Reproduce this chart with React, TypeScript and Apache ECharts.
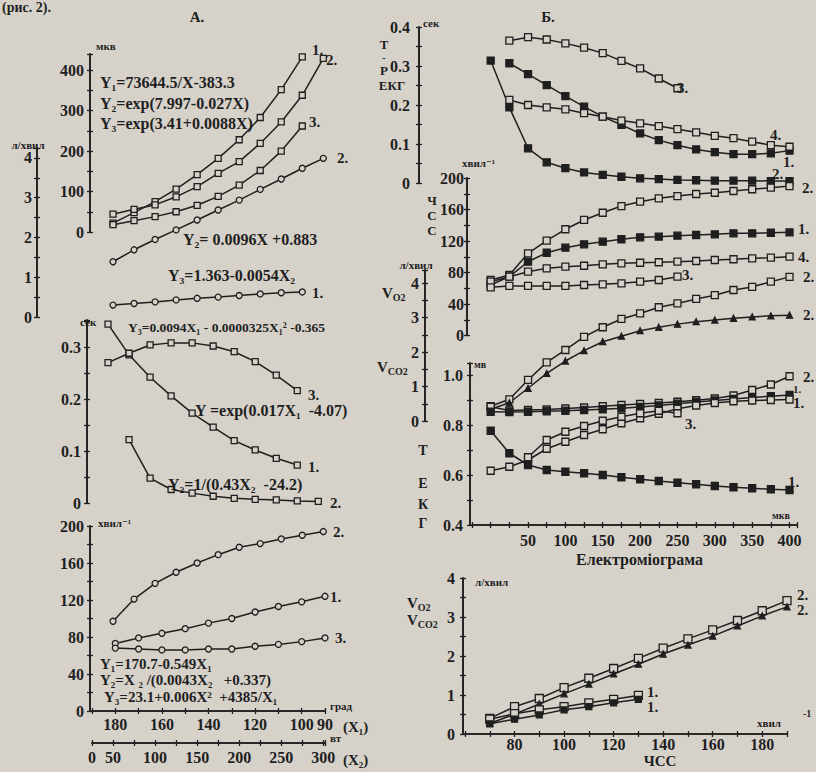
import { useEffect, useRef } from 'react';
import * as echarts from 'echarts';

// ================= DATA =================
// Panel А — X2 (вт) positions and X1 (град) positions of the points
const xW = [50, 75, 100, 125, 150, 175, 200, 225, 250, 275, 300];
const xDeg = [180, 170, 160, 150, 140, 130, 120, 110, 100, 90];

// А, upper block (мкв)
const aMkv1 = [22, 48, 75, 106, 142, 182, 228, 283, 352, 433];
const aMkv2 = [44, 56, 67, 87, 112, 145, 174, 219, 272, 338, 429];
const aMkv3 = [18, 28, 38, 50, 66, 88, 116, 152, 200, 262];
// А, л/хвил
const aLpm2 = [1.39, 1.69, 1.95, 2.19, 2.44, 2.69, 2.94, 3.21, 3.47, 3.74, 3.99];
const aLpm1 = [0.3, 0.34, 0.38, 0.43, 0.47, 0.5, 0.54, 0.58, 0.61, 0.63];
// А, сек
const aSec1 = [0.344, 0.285, 0.242, 0.206, 0.173, 0.146, 0.12, 0.102, 0.086, 0.073];
const aSec3 = [0.27, 0.288, 0.304, 0.308, 0.308, 0.302, 0.291, 0.272, 0.246, 0.216];
const aSec2 = [0.122, 0.048, 0.026, 0.019, 0.013, 0.009, 0.007, 0.006, 0.004, 0.003]; // from xW[1]
// А, хвил-1
const aHr2 = [97, 121, 138, 150, 160, 169, 177, 181, 186, 190, 194]; // on X2
const aHr1 = [73, 79, 84, 89, 95, 100, 107, 113, 118, 124]; // on X1
const aHr3 = [68, 67, 66, 66, 67, 67, 70, 72, 75, 79]; // on X1

// Panel Б — Електроміограма, мкв
const xMkv = [0, 25, 50, 75, 100, 125, 150, 175, 200, 225, 250, 275, 300, 325, 350, 375, 400];
// Б, T-P ЕКГ, сек
const bSec3 = [0.365, 0.374, 0.368, 0.358, 0.347, 0.333, 0.313, 0.294, 0.268, 0.243]; // from 25
const bSec1 = [0.307, 0.279, 0.251, 0.223, 0.196, 0.17, 0.149, 0.127, 0.11, 0.097, 0.086, 0.079, 0.074, 0.074, 0.076, 0.083]; // from 25
const bSec4 = [0.213, 0.2, 0.194, 0.189, 0.179, 0.17, 0.16, 0.153, 0.146, 0.138, 0.13, 0.121, 0.115, 0.106, 0.097, 0.093]; // from 25
const bSec2 = [0.314, 0.194, 0.089, 0.053, 0.038, 0.027, 0.021, 0.016, 0.012, 0.01, 0.008, 0.007, 0.006, 0.006, 0.006, 0.005, 0.005];
// Б, ЧСС, хвил-1
const bHr2 = [70.5, 76.8, 104.4, 120.4, 134.9, 146.7, 155.9, 164.4, 169.9, 174.2, 177.1, 179.7, 181.3, 183.5, 185.7, 187.7, 189.8];
const bHr1 = [64.1, 74.7, 93.7, 105.1, 111.5, 115.8, 119.1, 122.2, 124.7, 125.5, 126.7, 127.6, 128.5, 129.8, 129.8, 130.5, 131.0];
const bHr4 = [68.3, 74.7, 81.0, 85.3, 87.4, 88.6, 90.4, 91.7, 92.4, 93.0, 93.7, 94.6, 95.9, 96.8, 98.0, 98.8, 100.1];
const bHr3 = [61.2, 62.9, 62.9, 62.9, 62.9, 64.1, 65.0, 66.3, 68.3, 70.5, 74.7]; // 0..250
// Б, VO2 / VCO2, л/хвил
const bVo2 = [0.43, 0.63, 1.19, 1.7, 2.06, 2.44, 2.72, 2.96, 3.12, 3.3, 3.41, 3.54, 3.65, 3.8, 3.89, 4.04, 4.18];
const bVco2 = [0.34, 0.53, 0.95, 1.38, 1.74, 2.04, 2.3, 2.46, 2.62, 2.72, 2.81, 2.88, 2.93, 2.98, 3.02, 3.05, 3.07];
// Б, T ЕКГ, мв
const bMv2 = [0.873, 0.858, 0.86, 0.862, 0.866, 0.87, 0.875, 0.88, 0.884, 0.888, 0.893, 0.899, 0.906, 0.918, 0.94, 0.962, 0.995];
const bMv1a = [0.853, 0.852, 0.853, 0.855, 0.857, 0.86, 0.863, 0.867, 0.872, 0.878, 0.885, 0.892, 0.898, 0.904, 0.91, 0.915, 0.92];
const bMv1b = [0.617, 0.633, 0.66, 0.705, 0.733, 0.76, 0.783, 0.807, 0.827, 0.845, 0.865, 0.878, 0.888, 0.895, 0.898, 0.9, 0.902];
const bMv3 = [0.671, 0.74, 0.773, 0.796, 0.817, 0.833, 0.847, 0.857, 0.847]; // 50..250
const bMv1c = [0.777, 0.687, 0.64, 0.62, 0.613, 0.607, 0.6, 0.591, 0.583, 0.576, 0.569, 0.563, 0.556, 0.551, 0.547, 0.543, 0.54];
// Б, lower: л/хвил vs ЧСС
const xHr = [70, 80, 90, 100, 110, 120, 130, 140, 150, 160, 170, 180, 190];
const cVo2_2 = [0.4, 0.7, 0.91, 1.19, 1.43, 1.68, 1.94, 2.2, 2.44, 2.67, 2.91, 3.16, 3.42];
const cVco2_2 = [0.27, 0.51, 0.77, 1.03, 1.28, 1.54, 1.79, 2.05, 2.28, 2.51, 2.77, 3.03, 3.26];
const cVo2_1 = [0.38, 0.52, 0.62, 0.7, 0.8, 0.89, 0.99];
const cVco2_1 = [0.26, 0.38, 0.49, 0.62, 0.7, 0.8, 0.89];

// ================= STYLE =================
const INK = '#1f1f1f';
const PAPER = '#d6d2ca';
const FONT = '"Liberation Serif", "Times New Roman", "DejaVu Serif", serif';

const near = (a: number, b: number) => Math.abs(a - b) < 1e-6;
const multOf = (m: number) => (v: number) => (near(v / m, Math.round(v / m)) ? String(Math.round(v)) : '');
const intLbl = (v: number) => (near(v, Math.round(v)) ? String(Math.round(v)) : '');
const tenths = (v: number) => {
  const r = Math.round(v * 100);
  if (Math.abs(v * 100 - r) > 0.01 || r % 10 !== 0) return '';
  return r === 0 ? '0' : String(r / 100);
};
const evenTenths = (v: number) => {
  const r = Math.round(v * 10);
  if (Math.abs(v * 10 - r) > 0.01 || r % 2 !== 0) return '';
  return (r / 10).toFixed(1);
};
const fmtX1 = (v: number) => (v === 90 || (v % 20 === 0 && v <= 180) ? String(v) : '');
const fmtX2 = (v: number) => (v === 25 ? '0' : v % 50 === 0 ? String(v) : '');
const fmtMkv = (v: number) => (v > 0 && v % 50 === 0 ? String(v) : '');
const fmtHr = (v: number) => (v >= 80 && v <= 180 && v % 20 === 0 ? String(v) : '');

function buildOption() {
  const grid: any[] = [];
  const xAxis: any[] = [];
  const yAxis: any[] = [];
  const series: any[] = [];
  const lineStyle = { color: INK, width: 1.6 };
  const tickStyle = { color: INK, width: 1.3 };
  const lbl = (fmt: any, margin: number) => ({
    show: true, formatter: fmt, color: INK, fontFamily: FONT, fontWeight: 'bold', fontSize: 16, margin,
  });
  const addGrid = (left: number, top: number, width: number, height: number) => {
    grid.push({ left, top, width, height });
    return grid.length - 1;
  };
  const addAxis = (list: any[], base: any, visible: boolean) => {
    if (!visible) {
      list.push({ ...base, show: false });
      return list.length - 1;
    }
    const ax = {
      ...base,
      axisLine: { show: true, onZero: false, lineStyle },
      axisTick: { show: true, length: 3, lineStyle: tickStyle },
      splitLine: { show: false },
    };
    list.push(ax);
    const idx = list.length - 1;
    list.push({ ...ax, name: '', axisLabel: { show: false }, axisTick: { show: true, inside: true, length: 3, lineStyle: tickStyle } });
    return idx;
  };
  const mk = (xs: number[], ys: number[], xi: number, yi: number, kind: string, size = 6) => ({
    type: 'line', xAxisIndex: xi, yAxisIndex: yi,
    data: ys.map((y, i) => [xs[i], y]),
    symbol: kind === 'tri' ? 'triangle' : kind === 'circ' ? 'circle' : 'rect',
    symbolSize: size, showAllSymbol: true,
    lineStyle: { color: INK, width: 1.5 },
    itemStyle: { color: kind === 'fill' || kind === 'tri' ? INK : PAPER, borderColor: INK, borderWidth: 1.3 },
    silent: true, z: 3, clip: false,
  });
  const xW_A = (g: number) => addAxis(xAxis, { type: 'value', gridIndex: g, min: 25, max: 302 }, false);
  const xB = (g: number) => addAxis(xAxis, { type: 'value', gridIndex: g, min: -25, max: 410 }, false);
  const nameStyle = (size: number) => ({ color: INK, fontFamily: FONT, fontWeight: 'bold', fontSize: size });

  // ---- A1 мкв
  let g = addGrid(92, 54, 233, 178);
  let xi = xW_A(g);
  let yi = addAxis(yAxis, { type: 'value', gridIndex: g, position: 'left', offset: 2, min: 0, max: 440, interval: 50, axisLabel: lbl(multOf(100), 6) }, true);
  series.push(mk(xW, aMkv1, xi, yi, 'open'), mk(xW, aMkv2, xi, yi, 'open'), mk(xW, aMkv3, xi, yi, 'open'));
  // ---- A2 л/хвил
  g = addGrid(92, 148, 233, 169);
  xi = xW_A(g);
  yi = addAxis(yAxis, { type: 'value', gridIndex: g, position: 'left', offset: 55, min: 0, max: 4.25, interval: 0.5, axisLabel: lbl(intLbl, 5) }, true);
  series.push(mk(xW, aLpm2, xi, yi, 'circ'), mk(xW, aLpm1, xi, yi, 'circ'));
  // ---- A3 сек
  g = addGrid(87, 320, 233, 183);
  xi = xW_A(g);
  yi = addAxis(yAxis, { type: 'value', gridIndex: g, position: 'left', offset: 0, min: 0, max: 0.352, interval: 0.05, axisLabel: lbl(tenths, 6) }, true);
  series.push(mk(xW, aSec1, xi, yi, 'open'), mk(xW, aSec3, xi, yi, 'open'), mk(xW.slice(1), aSec2, xi, yi, 'open'));
  // ---- A4 хвил-1
  g = addGrid(92, 526, 233, 185);
  const xi1 = addAxis(xAxis, {
    type: 'value', gridIndex: g, position: 'bottom', offset: 0, min: 90, max: 190, interval: 10, inverse: true,
    axisLabel: lbl(fmtX1, 5), name: 'град', nameLocation: 'start', nameGap: 5,
    nameTextStyle: { ...nameStyle(11), verticalAlign: 'bottom' },
  }, true);
  const xi2 = addAxis(xAxis, {
    type: 'value', gridIndex: g, position: 'bottom', offset: 32, min: 25, max: 302, interval: 25,
    axisLabel: lbl(fmtX2, 6), name: 'вт', nameLocation: 'end', nameGap: 5,
    nameTextStyle: { ...nameStyle(11), verticalAlign: 'bottom' },
  }, true);
  yi = addAxis(yAxis, { type: 'value', gridIndex: g, position: 'left', offset: 2, min: 0, max: 200, interval: 20, axisLabel: lbl(multOf(40), 6) }, true);
  series.push(mk(xW, aHr2, xi2, yi, 'circ'), mk(xDeg, aHr1, xi1, yi, 'circ'), mk(xDeg, aHr3, xi1, yi, 'circ'));

  // ---- B1 сек
  g = addGrid(472, 27, 325, 156);
  xi = xB(g);
  yi = addAxis(yAxis, { type: 'value', gridIndex: g, position: 'left', offset: 53, min: 0, max: 0.4, interval: 0.05, axisLabel: lbl(tenths, 9) }, true);
  series.push(
    mk(xMkv.slice(1), bSec3, xi, yi, 'open', 7), mk(xMkv.slice(1), bSec1, xi, yi, 'fill', 7),
    mk(xMkv.slice(1), bSec4, xi, yi, 'open', 7), mk(xMkv, bSec2, xi, yi, 'fill', 7),
  );
  // ---- B2 ЧСС
  g = addGrid(472, 178, 325, 157.5);
  xi = xB(g);
  yi = addAxis(yAxis, { type: 'value', gridIndex: g, position: 'left', offset: 5, min: 0, max: 200, interval: 20, axisLabel: lbl(multOf(40), 3) }, true);
  series.push(
    mk(xMkv, bHr2, xi, yi, 'open', 7), mk(xMkv, bHr1, xi, yi, 'fill', 7),
    mk(xMkv, bHr4, xi, yi, 'open', 7), mk(xMkv, bHr3, xi, yi, 'open', 7),
  );
  // ---- B3 л/хвил
  g = addGrid(472, 270, 325, 151);
  xi = xB(g);
  yi = addAxis(yAxis, { type: 'value', gridIndex: g, position: 'left', offset: 47, min: 0, max: 4.38, interval: 0.5, axisLabel: lbl(intLbl, 6) }, true);
  series.push(mk(xMkv, bVo2, xi, yi, 'open', 7), mk(xMkv, bVco2, xi, yi, 'tri', 6));
  // ---- B4 мв
  g = addGrid(472, 363, 325, 162);
  xi = addAxis(xAxis, {
    type: 'value', gridIndex: g, position: 'bottom', min: -25, max: 410, interval: 25, axisLabel: lbl(fmtMkv, 7),
    name: 'Електроміограма', nameLocation: 'middle', nameGap: 26,
    nameTextStyle: { ...nameStyle(16), padding: [0, 0, 0, 10] },
  }, true);
  yi = addAxis(yAxis, { type: 'value', gridIndex: g, position: 'left', offset: 2, min: 0.4, max: 1.048, interval: 0.1, axisLabel: lbl(evenTenths, 7) }, true);
  series.push(
    mk(xMkv, bMv2, xi, yi, 'open', 7), mk(xMkv, bMv1a, xi, yi, 'fill', 7), mk(xMkv, bMv1b, xi, yi, 'open', 7),
    mk(xMkv.slice(2), bMv3, xi, yi, 'open', 7), mk(xMkv, bMv1c, xi, yi, 'fill', 7),
  );
  // ---- B5 л/хвил vs ЧСС
  g = addGrid(465, 578, 322, 156);
  xi = addAxis(xAxis, { type: 'value', gridIndex: g, position: 'bottom', min: 60, max: 190, interval: 10, axisLabel: lbl(fmtHr, 2) }, true);
  yi = addAxis(yAxis, { type: 'value', gridIndex: g, position: 'left', offset: 2, min: 0, max: 4, interval: 0.5, axisLabel: lbl(intLbl, 8) }, true);
  series.push(
    mk(xHr, cVo2_2, xi, yi, 'open', 8), mk(xHr, cVco2_2, xi, yi, 'tri', 6),
    mk(xHr, cVo2_1, xi, yi, 'open', 8), mk(xHr, cVco2_1, xi, yi, 'fill', 6),
  );

  // ---- annotations
  const t = (text: string, x: number, y: number, size = 15, align = 'left') => ({
    type: 'text', x, y, silent: true, z: 20,
    style: { text, fill: INK, fontFamily: FONT, fontWeight: 'bold', fontSize: size, align, verticalAlign: 'middle' },
  });
  const vsub = (main: string, sub: string, x: number, y: number) => ({
    type: 'text', x, y, silent: true, z: 20,
    style: {
      text: `{m|${main}}{s|${sub}}`, align: 'left', verticalAlign: 'middle',
      rich: {
        m: { fill: INK, fontFamily: FONT, fontWeight: 'bold', fontSize: 15, lineHeight: 18 },
        s: { fill: INK, fontFamily: FONT, fontWeight: 'bold', fontSize: 10, lineHeight: 18, verticalAlign: 'bottom' },
      },
    },
  });
  const graphic = [
    t('(рис. 2).', 2, 7, 14),
    t('А.', 197, 17, 15, 'center'),
    t('Б.', 548, 17, 15, 'center'),
    // A1
    t('мкв', 96, 46, 11),
    t('Y₁=73644.5/X-383.3', 100, 82, 16),
    t('Y₂=exp(7.997-0.027X)', 100, 103, 16),
    t('Y₃=exp(3.41+0.0088X)', 100, 123, 16),
    t('1.', 312, 50), t('2.', 326, 60), t('3.', 309, 122), t('2.', 337, 158),
    t('Y₂= 0.0096X +0.883', 183, 239, 16),
    t('Y₃=1.363-0.0054X₂', 168, 275, 16),
    t('1.', 312, 293),
    t('л/хвил', 28, 145, 11, 'center'),
    // A3
    t('сек', 80, 322, 11),
    t('Y₃=0.0094X₁ - 0.0000325X₁² -0.365', 128, 327, 13.5),
    t('3.', 308, 395), t('Y =exp(0.017X₁  -4.07)', 195, 410, 16),
    t('1.', 308, 467), t('Y₂=1/(0.43X₂  -24.2)', 168, 484, 16), t('2.', 330, 503),
    // A4
    t('хвил⁻¹', 98, 523, 11),
    t('2.', 333, 532), t('1.', 330, 597), t('3.', 335, 638),
    t('Y₁=170.7-0.549X₁', 100, 664, 15),
    t('Y₂=X ₂ /(0.0043X₂   +0.337)', 100, 680, 15),
    t('Y₃=23.1+0.006X²  +4385/X₁', 104, 697, 15),
    t('(X₁)', 343, 727), t('(X₂)', 343, 760),
    // B1
    t('сек', 423, 23, 11),
    t('T', 384, 44, 13, 'center'), t('-', 384, 57.5, 10, 'center'), t('P', 384, 70, 13, 'center'), t('ЕКГ', 392, 85, 13, 'center'),
    t('3.', 677, 88), t('4.', 770, 135), t('1.', 783, 162), t('2.', 772, 174), t('2.', 802, 188),
    // B2
    t('хвил⁻¹', 462, 163, 11),
    t('Ч', 432, 200, 13, 'center'), t('С', 432, 215, 13, 'center'), t('С', 432, 230, 13, 'center'),
    t('1.', 798, 229), t('4.', 798, 257), t('3.', 682, 275), t('2.', 803, 277), t('2.', 803, 315),
    // B3
    t('л/хвил', 416, 265, 11, 'center'),
    vsub('V', 'O2', 382, 293), vsub('V', 'CO2', 377, 367),
    // B4
    t('мв', 474, 364, 10),
    t('2.', 803, 377), t('1.', 793, 389, 11), t('1.', 793, 403), t('3.', 685, 424), t('1.', 788, 482),
    t('T', 423, 450, 14, 'center'), t('Е', 423, 483, 14, 'center'), t('К', 423, 504, 14, 'center'), t('Г', 423, 523, 14, 'center'),
    t('мкв', 772, 515, 10),
    // B5
    t('л/хвил', 475, 582, 11),
    vsub('V', 'O2', 407, 603), vsub('V', 'CO2', 407, 620),
    t('2.', 797, 595), t('2.', 797, 610), t('1.', 647, 692), t('1.', 647, 707),
    t('хвил', 757, 723, 11), t('-1', 803, 713, 10),
    t('ЧСС', 660, 761, 15, 'center'),
  ];

  return {
    animation: false,
    backgroundColor: PAPER,
    textStyle: { fontFamily: FONT },
    grid, xAxis, yAxis, series, graphic,
  };
}

export default function App() {
  const ref = useRef<HTMLDivElement>(null);
  useEffect(() => {
    document.body.style.margin = '0';
    const chart = echarts.init(ref.current as HTMLDivElement, undefined, { renderer: 'svg' });
    chart.setOption(buildOption() as any);
    return () => chart.dispose();
  }, []);
  return <div ref={ref} style={{ position: 'absolute', left: 0, top: 0, width: 816, height: 772 }} />;
}
